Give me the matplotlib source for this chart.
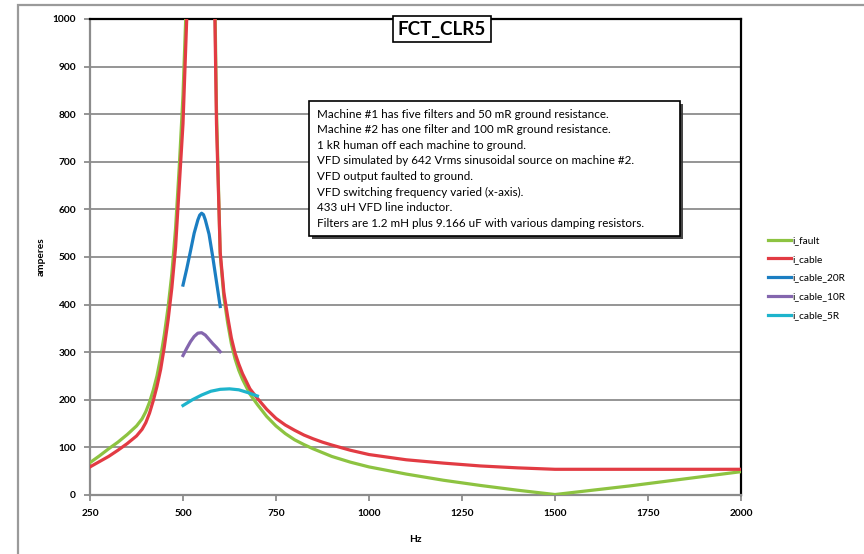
import matplotlib
matplotlib.use('Agg')
import matplotlib.pyplot as plt
import matplotlib.patheffects as pe
from matplotlib.patches import Rectangle

plt.rcParams['font.family'] = ['Lato', 'DejaVu Sans']

# Frequency sweep (Hz) for the two full-range traces
freq = [250, 275, 300, 325, 350, 375, 390, 400, 410, 420, 430, 440, 450, 460,
        470, 480, 490, 500, 510, 520, 530, 540, 550, 560, 570, 580, 590, 600,
        610, 620, 630, 640, 650, 660, 680, 700, 725, 750, 775, 800, 825, 850,
        875, 900, 950, 1000, 1100, 1200, 1300, 1400, 1500, 1600, 1700, 1800,
        1900, 2000]

i_fault = [68, 82, 97, 111, 127, 145, 160, 175, 195, 220, 250, 290, 338, 395,
           465, 560, 690, 840, 1060, 1500, 2500, 4000, 5000, 3500, 2200, 1350,
           810, 505, 415, 362, 318, 286, 262, 243, 212, 190, 165, 145, 129, 116,
           106, 97, 89, 81, 69, 59, 44, 31, 20, 10, 1, 10, 19, 29, 39, 49]

i_cable = [59, 70, 81, 94, 108, 124, 138, 152, 172, 198, 228, 264, 312, 368,
           435, 520, 650, 780, 1000, 1450, 2400, 3900, 4900, 3400, 2100, 1300,
           780, 510, 425, 375, 330, 298, 275, 255, 223, 203, 180, 161, 147, 136,
           126, 118, 111, 105, 94, 85, 74, 67, 61, 57, 54, 54, 54, 54, 54, 54]

# Damped filter sweeps
freq_20r = [500, 510, 520, 530, 540, 545, 550, 555, 560, 570, 580, 590, 600]
i_cable_20r = [441, 475, 512, 550, 578, 588, 592, 589, 578, 548, 500, 448, 396]

freq_10r = [500, 510, 520, 530, 540, 550, 560, 570, 580, 590, 600]
i_cable_10r = [293, 308, 322, 333, 340, 341, 336, 327, 318, 310, 301]

freq_5r = [500, 525, 550, 575, 600, 625, 650, 675, 700]
i_cable_5r = [188, 200, 210, 218, 222, 223, 221, 215, 208]

x_ticks = [250, 500, 750, 1000, 1250, 1500, 1750, 2000]
y_ticks = [0, 100, 200, 300, 400, 500, 600, 700, 800, 900, 1000]

notes = [
    "Machine #1 has five filters and 50 mR ground resistance.",
    "Machine #2 has one filter and 100 mR ground resistance.",
    "1 kR human off each machine to ground.",
    "VFD simulated by 642 Vrms sinusoidal source on machine #2.",
    "VFD output faulted to ground.",
    "VFD switching frequency varied (x-axis).",
    "433 uH VFD line inductor.",
    "Filters are 1.2 mH plus 9.166 uF with various damping resistors.",
]

W, H = 864, 554


def px(x, y):
    # pixel position (from top-left) -> figure fraction
    return x / W, (H - y) / H


def main():
    fig = plt.figure(figsize=(W / 100, H / 100), dpi=100)
    fig.patches.append(Rectangle(px(18, 605), 900 / W, 600 / H, transform=fig.transFigure,
                                 fill=False, edgecolor='#9a9a9a', lw=1.6, zorder=0))

    ax = fig.add_axes([90 / W, 59 / H, 651 / W, 476 / H])
    lw = 2.3
    ax.plot(freq, i_fault, color='#8dc341', lw=lw, label='i_fault', zorder=3)
    ax.plot(freq, i_cable, color='#e23b43', lw=lw, label='i_cable', zorder=4)
    ax.plot(freq_20r, i_cable_20r, color='#1b7ec2', lw=lw, label='i_cable_20R', zorder=5)
    ax.plot(freq_10r, i_cable_10r, color='#8466ae', lw=lw, label='i_cable_10R', zorder=5)
    ax.plot(freq_5r, i_cable_5r, color='#1eb4cc', lw=lw, label='i_cable_5R', zorder=5)

    ax.set_xlim(250, 2000)
    ax.set_ylim(0, 1000)
    ax.set_xticks(x_ticks)
    ax.set_yticks(y_ticks)
    ax.grid(axis='y', color='#8c8c8c', lw=1.3)
    ax.set_axisbelow(True)
    for side in ['left', 'bottom']:
        ax.spines[side].set_color('#8c8c8c')
        ax.spines[side].set_linewidth(1.6)
    for side in ['top', 'right']:
        ax.spines[side].set_color('black')
        ax.spines[side].set_linewidth(1.6)
    ax.tick_params(axis='both', colors='#8c8c8c', labelcolor='black', labelsize=7.3,
                   length=4, width=1.3, pad=6)
    for lab in ax.get_xticklabels() + ax.get_yticklabels():
        lab.set_fontweight('bold')
    ax.set_xlabel('Hz', fontsize=7.3, fontweight='bold', labelpad=12)
    ax.set_ylabel('amperes', fontsize=7.3, fontweight='bold', labelpad=5)

    # title box
    tx, ty = px(442, 29)
    fig.text(tx, ty, 'FCT_CLR5', ha='center', va='center', fontsize=13.5, fontweight='bold',
             bbox=dict(boxstyle='square,pad=0.25', fc='white', ec='black', lw=1.2), zorder=10)

    # notes box with shadow
    bx, by = px(309, 236)
    box = Rectangle((bx, by), 371 / W, 135 / H, transform=fig.transFigure,
                    fc='white', ec='black', lw=1.2, zorder=10)
    box.set_path_effects([pe.SimplePatchShadow(offset=(2, -2), shadow_rgbFace='#333333', alpha=0.9),
                          pe.Normal()])
    fig.patches.append(box)
    for i, line in enumerate(notes):
        lx, ly = px(317, 114 + i * 15.6)
        fig.text(lx, ly, line, ha='left', va='center', fontsize=8.4, zorder=11)

    lx, ly = px(763, 231)
    fig.legend(loc='upper left', bbox_to_anchor=(lx, ly), frameon=False, fontsize=7.3,
               handlelength=2.3, handletextpad=0.1, labelspacing=0.95, borderpad=0)

    fig.savefig('out.png', dpi=100)


if __name__ == "__main__":
    main()
